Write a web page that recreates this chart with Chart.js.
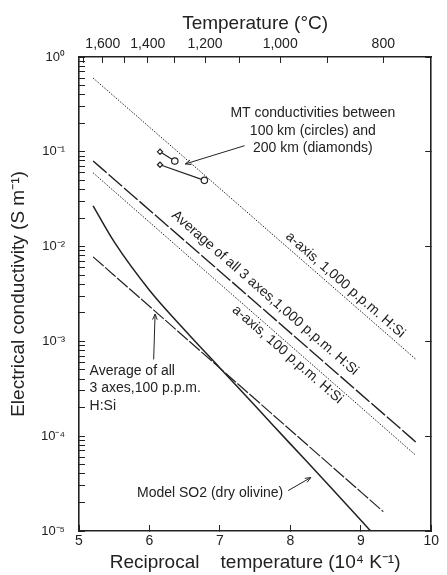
<!DOCTYPE html>
<html>
<head>
<meta charset="utf-8">
<script src="https://cdn.jsdelivr.net/npm/chart.js@4.4.1/dist/chart.umd.min.js"></script>
<style>
  html, body { margin: 0; padding: 0; background: #fff; }
  canvas { display: block; }
</style>
</head>
<body>
<canvas id="chart" width="447" height="575"></canvas>
<script>
// bottom axis: reciprocal temperature (10^4 K^-1)
const xTicks = [5, 6, 7, 8, 9, 10];
// left axis: conductivity decades
const yDecades = [1e-5, 1e-4, 1e-3, 1e-2, 1e-1, 1];
const yLabels = ['10⁻⁵', '10⁻⁴', '10⁻³', '10⁻²', '10⁻¹', '10⁰'];
// top axis: temperature in degrees C
const tempTicks = [1700, 1600, 1500, 1400, 1300, 1200, 1100, 1000, 900, 800];
const tempLabelValues = [1600, 1400, 1200, 1000, 800];
const tempLabels = ['1,600', '1,400', '1,200', '1,000', '800'];

// conductivity lines (S/m)
const aAxis1000X = [5.2, 9.78];
const aAxis1000Y = [0.60, 6.5e-4];
const avg1000X = [5.2, 9.78];
const avg1000Y = [0.080, 8.7e-5];
const aAxis100X = [5.2, 9.78];
const aAxis100Y = [0.060, 6.3e-5];
const avg100X = [5.2, 9.32];
const avg100Y = [0.0078, 1.6e-5];
const so2X = [5.2, 5.5, 6.0, 6.5, 7.0, 7.5, 8.0, 8.5, 9.14];
const so2Y = [0.0269, 0.0112, 0.00347, 0.00132, 5.25e-4, 2.09e-4, 8.3e-5, 3.31e-5, 1e-5];

// MT conductivities, 200 km (diamonds) joined to 100 km (circles)
const mtDiamondX = [6.15, 6.15];
const mtDiamondY = [0.10, 0.073];
const mtCircleX = [6.36, 6.78];
const mtCircleY = [0.080, 0.050];

// text notes (anchored in data units)
const mtNoteLines = ['MT conductivities between', '100 km (circles) and', '200 km (diamonds)'];
const mtNoteX = 8.32;
const mtNoteY = [0.254, 0.167, 0.110];
const mtArrowX = [7.35, 6.51];
const mtArrowY = [0.116, 0.0745];
const avg100NoteLines = ['Average of all', '3 axes,100 p.p.m.', 'H:Si'];
const avg100NoteX = 5.15;
const avg100NoteY = [4.91e-4, 3.24e-4, 2.09e-4];
const avg100ArrowX = [6.06, 6.08];
const avg100ArrowY = [6.45e-4, 1.94e-3];
const so2Note = 'Model SO2 (dry olivine)';
const so2NoteX = 7.90;
const so2NoteY = 2.48e-5;
const so2ArrowX = [7.97, 8.29];
const so2ArrowY = [2.67e-5, 3.66e-5];
const lineNotes = ['a-axis, 1,000 p.p.m. H:Si', 'Average of all 3 axes,1,000 p.p.m. H:Si', 'a-axis, 100 p.p.m. H:Si'];
const lineNoteX = [8.78, 7.64, 7.96];
const lineNoteY = [0.00394, 0.00324, 7.27e-4];

const ink = '#222';
const family = "'Liberation Sans', Arial, sans-serif";

const toPoints = (xs, ys) => xs.map((x, i) => ({ x, y: ys[i] }));

function lineSet(label, xs, ys, dash, width) {
  return {
    label,
    data: toPoints(xs, ys),
    borderColor: ink,
    borderWidth: width,
    borderDash: dash,
    pointRadius: 0,
    fill: false,
    cubicInterpolationMode: 'monotone'
  };
}

const mtSets = mtDiamondX.map((dx, i) => ({
  label: 'MT ' + i,
  data: [{ x: dx, y: mtDiamondY[i] }, { x: mtCircleX[i], y: mtCircleY[i] }],
  borderColor: ink,
  borderWidth: 1.2,
  pointStyle: ['rectRot', 'circle'],
  pointRadius: [2.6, 3.2],
  pointBackgroundColor: '#fff',
  pointBorderColor: ink,
  pointBorderWidth: 1.2
}));

function arrow(ctx, x1, y1, x2, y2) {
  const a = Math.atan2(y2 - y1, x2 - x1);
  ctx.beginPath();
  ctx.moveTo(x1, y1);
  ctx.lineTo(x2, y2);
  ctx.moveTo(x2 - 6 * Math.cos(a - 0.4), y2 - 6 * Math.sin(a - 0.4));
  ctx.lineTo(x2, y2);
  ctx.lineTo(x2 - 6 * Math.cos(a + 0.4), y2 - 6 * Math.sin(a + 0.4));
  ctx.stroke();
}

const notesPlugin = {
  id: 'notes',
  afterDatasetsDraw(chart) {
    const { ctx } = chart;
    const xs = chart.scales.x, ys = chart.scales.y;
    const px = v => xs.getPixelForValue(v), py = v => ys.getPixelForValue(v);
    ctx.save();
    ctx.fillStyle = ink;
    ctx.strokeStyle = ink;
    ctx.lineWidth = 1;
    ctx.font = '14px ' + family;
    ctx.textBaseline = 'middle';

    ctx.textAlign = 'center';
    mtNoteLines.forEach((t, i) => ctx.fillText(t, px(mtNoteX), py(mtNoteY[i])));
    arrow(ctx, px(mtArrowX[0]), py(mtArrowY[0]), px(mtArrowX[1]), py(mtArrowY[1]));

    ctx.textAlign = 'left';
    avg100NoteLines.forEach((t, i) => ctx.fillText(t, px(avg100NoteX), py(avg100NoteY[i])));
    arrow(ctx, px(avg100ArrowX[0]), py(avg100ArrowY[0]), px(avg100ArrowX[1]), py(avg100ArrowY[1]));

    ctx.textAlign = 'right';
    ctx.fillText(so2Note, px(so2NoteX), py(so2NoteY));
    arrow(ctx, px(so2ArrowX[0]), py(so2ArrowY[0]), px(so2ArrowX[1]), py(so2ArrowY[1]));

    // slanted labels follow the a-axis 1,000 line direction
    const ang = Math.atan2(py(aAxis1000Y[1]) - py(aAxis1000Y[0]), px(aAxis1000X[1]) - px(aAxis1000X[0]));
    ctx.textAlign = 'center';
    lineNotes.forEach((t, i) => {
      ctx.save();
      ctx.translate(px(lineNoteX[i]), py(lineNoteY[i]));
      ctx.rotate(ang);
      ctx.fillText(t, 0, 0);
      ctx.restore();
    });
    ctx.restore();
  }
};

function logTicks() {
  const out = [];
  for (let e = -5; e < 0; e++) {
    for (let m = 1; m < 10; m++) out.push({ value: m * Math.pow(10, e) });
  }
  out.push({ value: 1 });
  return out;
}

const decadeLabel = v => {
  const i = yDecades.findIndex(d => Math.abs(Math.log10(v) - Math.log10(d)) < 1e-6);
  return i >= 0 ? yLabels[i] : '';
};

const axisGrid = { drawOnChartArea: false, color: ink, tickColor: ink, tickLength: -6, lineWidth: 1 };
const axisBorder = { color: ink, width: 1.6 };

new Chart(document.getElementById('chart').getContext('2d'), {
  type: 'line',
  data: {
    datasets: [
      lineSet('a-axis 1,000 p.p.m.', aAxis1000X, aAxis1000Y, [1.5, 1.5], 1),
      lineSet('Average 1,000 p.p.m.', avg1000X, avg1000Y, [18, 2.5], 1.4),
      lineSet('a-axis 100 p.p.m.', aAxis100X, aAxis100Y, [1.5, 1.5], 1),
      lineSet('Average 100 p.p.m.', avg100X, avg100Y, [14, 2], 1.2),
      lineSet('Model SO2', so2X, so2Y, [], 1.5),
      ...mtSets
    ]
  },
  options: {
    responsive: false,
    animation: false,
    events: [],
    layout: { padding: 0 },
    plugins: { legend: { display: false }, tooltip: { enabled: false } },
    scales: {
      x: {
        type: 'linear', position: 'bottom', min: 5, max: 10,
        afterBuildTicks: s => { s.ticks = xTicks.map(v => ({ value: v })); },
        afterFit: s => { s.height = 44; },
        grid: axisGrid, border: axisBorder,
        ticks: { color: ink, font: { family, size: 14 }, padding: 8, maxRotation: 0, autoSkip: false, callback: v => String(v) },
        title: { display: true, text: 'Reciprocal    temperature (10⁴ K⁻¹)', color: ink, font: { family, size: 19 }, padding: { top: 0, bottom: 1 } }
      },
      x2: {
        type: 'linear', position: 'top', min: 5, max: 10,
        afterBuildTicks: s => { s.ticks = tempTicks.map(t => ({ value: 1e4 / (t + 273) })); },
        afterFit: s => { s.height = 57; },
        grid: axisGrid, border: axisBorder,
        ticks: {
          color: ink, font: { family, size: 14 }, padding: 10, maxRotation: 0, autoSkip: false,
          callback: v => {
            const i = tempLabelValues.indexOf(Math.round(1e4 / v - 273));
            return i >= 0 ? tempLabels[i] : '';
          }
        },
        title: { display: true, text: 'Temperature (°C)', color: ink, font: { family, size: 19 }, padding: { top: 12, bottom: 0 } }
      },
      y: {
        type: 'logarithmic', position: 'left', min: 1e-5, max: 1,
        afterBuildTicks: s => { s.ticks = logTicks(); },
        afterFit: s => { s.width = 79; },
        grid: axisGrid, border: axisBorder,
        ticks: { color: ink, font: { family, size: 13 }, padding: 20, autoSkip: false, callback: decadeLabel },
        title: { display: true, text: 'Electrical conductivity (S m⁻¹)', color: ink, font: { family, size: 19 }, padding: { top: 7, bottom: 0 } }
      },
      y2: {
        type: 'logarithmic', position: 'right', min: 1e-5, max: 1,
        afterBuildTicks: s => { s.ticks = yDecades.map(v => ({ value: v })); },
        afterFit: s => { s.width = 9; },
        grid: axisGrid, border: axisBorder,
        ticks: { display: false }
      }
    }
  },
  plugins: [notesPlugin]
});
</script>
</body>
</html>
